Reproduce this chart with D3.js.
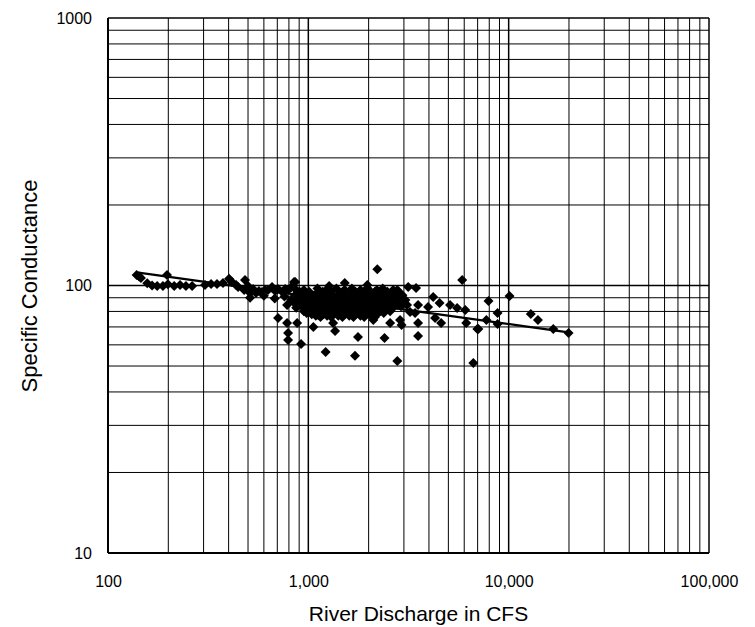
<!DOCTYPE html>
<html>
<head>
<meta charset="utf-8">
<script src="https://cdn.jsdelivr.net/npm/d3@7"></script>
<style>
  body { margin: 0; background: #fff; }
  text { font-family: "Liberation Sans", Arial, sans-serif; fill: #000; }
</style>
</head>
<body>
<div id="chart"></div>
<script>
// Data: [discharge cfs, specific conductance]
const lowFlow = [
  [139,109.5],[143,108],[146,106.7],[157,102],[166,100],[176,99.6],[188,99.6],[197,109.5],[199,101],[214,99.6],
  [229,100.4],[245,99.6],[263,99.6],[305,100.4],[327,101.3],[350,101.3],[375,102.2],[402,106],[416,103],[436,100.4],
  [483,104.8],[446,98.7],[478,96.2],[500,99.6],[512,93.7],[530,97],[548,93.7],[567,95.3],[587,94.5],[608,96.2],
  [629,96.2],[659,98.7],[683,95.3],[706,97],[742,94.5],[766,97],[792,96.2],[823,98.7],[849,103],[860,97],
  [512,90],[600,91.5],[680,89.5],[760,91],[820,88.5]
]
const core = [
  [1110,97.5],[1380,97.5],[1650,97.5],[1980,97.5],[2350,97.5],
  [950,96.2],[1230,96.2],[1520,96.2],[1820,96.2],[2200,96.2],[2650,96.2],
  [905,94.8],[1010,94.8],[1180,94.8],[1300,94.8],[1480,94.8],[1720,94.8],[1890,94.8],[2150,94.8],[2480,94.8],[2820,94.8],
  [880,93.3],[990,93.3],[1120,93.3],[1270,93.3],[1440,93.3],[1630,93.3],[1850,93.3],[2080,93.3],[2380,93.3],[2700,93.3],
  [860,92],[960,92],[1070,92],[1240,92],[1410,92],[1560,92],[1800,92],[2050,92],[2300,92],[2600,92],[2950,92],
  [920,90.8],[1040,90.8],[1190,90.8],[1350,90.8],[1520,90.8],[1720,90.8],[1960,90.8],[2230,90.8],[2520,90.8],[2850,90.8],
  [890,89.5],[1000,89.5],[1150,89.5],[1290,89.5],[1450,89.5],[1640,89.5],[1870,89.5],[2120,89.5],[2400,89.5],[2720,89.5],
  [860,88.2],[970,88.2],[1100,88.2],[1250,88.2],[1410,88.2],[1590,88.2],[1810,88.2],[2050,88.2],[2330,88.2],[2640,88.2],[3050,88.2],
  [840,87],[940,87],[1060,87],[1200,87],[1350,87],[1530,87],[1760,87],[1990,87],[2250,87],[2580,87],[2900,87],
  [880,85.9],[990,85.9],[1120,85.9],[1270,85.9],[1430,85.9],[1620,85.9],[1840,85.9],[2090,85.9],[2370,85.9],[2680,85.9],
  [910,84.8],[1030,84.8],[1170,84.8],[1310,84.8],[1500,84.8],[1700,84.8],[1920,84.8],[2200,84.8],[2480,84.8],[2780,84.8],
  [930,83.6],[1060,83.6],[1200,83.6],[1360,83.6],[1540,83.6],[1750,83.6],[1990,83.6],[2260,83.6],[2560,83.6],[2900,83.6],
  [870,82.5],[980,82.5],[1110,82.5],[1260,82.5],[1420,82.5],[1610,82.5],[1830,82.5],[2070,82.5],[2350,82.5],[2650,82.5],
  [1010,81.3],[1150,81.3],[1300,81.3],[1470,81.3],[1670,81.3],[1890,81.3],[2140,81.3],[2430,81.3],
  [950,80.2],[1080,80.2],[1220,80.2],[1380,80.2],[1560,80.2],[1780,80.2],[2010,80.2],[2280,80.2],[2560,80.2],
  [980,79],[1120,79],[1260,79],[1430,79],[1630,79],[1840,79],[2080,79],[2380,79],
  [1040,78],[1190,78],[1330,78],[1520,78],[1720,78],[1950,78],[2200,78],
  [1090,77],[1240,77],[1410,77],[1600,77],[1820,77],[2060,77],
  [1150,76.2],[1300,76.2],[1480,76.2],[1680,76.2],[1900,76.2],[2150,76.2]
]
const upperEdge = [
  [860,103],[1270,99.6],[1520,102.2],[1970,100.4],[3150,98.7],[3450,97.9],[5860,104.8],[2780,96.2]
]
const scattered = [
  [706,75.6],[783,72.4],[783,84.5],[792,66.4],[792,62.6],[879,72.4],[920,60.5],[1060,70],[1120,77.6],[1220,56.4],
  [1330,72.4],[1360,67.6],[1770,64.2],[1710,54.6],[2400,63.6],[2920,71.2],[2870,74.3],[2560,72.4],[2110,74.3],
  [3530,64.7],[3530,72.4],[2780,52.2],[6660,51.3],[2210,115]
]
const highFlow = [
  [4200,90.6],[4520,86],[5100,84.5],[5530,82.4],[6070,81],[3110,84.5],[3530,84.5],[3960,83.1],[3220,79.6],[3410,78.9],
  [4290,75.6],[4600,72.4],[6140,72.4],[6980,68.8],[7930,87.5],[10100,91.4],[8800,78.9],[12900,78.3],[14000,74.3],
  [7740,74.3],[8800,71.8],[7060,68.8],[16700,68.8],[19900,66.4]
]

// power trend line y = a * x^b
const trendA = 187
const trendB = -0.104

const xTicks = [100, 1000, 10000, 100000]
const yTicks = [10, 100, 1000]

const points = lowFlow.concat(core, upperEdge, scattered, highFlow)

const width = 755, height = 627
const margin = {top: 18, right: 46, bottom: 74, left: 108}

const svg = d3.select('#chart').append('svg')
  .attr('width', width)
  .attr('height', height)

const x = d3.scaleLog().domain([100, 100000]).range([margin.left, width - margin.right])
const y = d3.scaleLog().domain([10, 1000]).range([height - margin.bottom, margin.top])

// gridlines, every 1..9 of each decade
const grid = svg.append('g').attr('stroke', '#000').attr('stroke-width', 1)
grid.selectAll('.vx')
  .data(x.ticks())
  .join('line')
  .attr('x1', d => x(d)).attr('x2', d => x(d))
  .attr('y1', y.range()[1]).attr('y2', y.range()[0])
  .attr('stroke-width', d => xTicks.includes(d) ? 1.5 : 1)
grid.selectAll('.hy')
  .data(y.ticks())
  .join('line')
  .attr('y1', d => y(d)).attr('y2', d => y(d))
  .attr('x1', x.range()[0]).attr('x2', x.range()[1])
  .attr('stroke-width', d => yTicks.includes(d) ? 1.5 : 1)

// axis lines
svg.append('line')
  .attr('x1', x.range()[0]).attr('x2', x.range()[0])
  .attr('y1', y.range()[1]).attr('y2', y.range()[0])
  .attr('stroke', '#000').attr('stroke-width', 2)
svg.append('line')
  .attr('x1', x.range()[0]).attr('x2', x.range()[1])
  .attr('y1', y.range()[0]).attr('y2', y.range()[0])
  .attr('stroke', '#000').attr('stroke-width', 2)

// axes labels
svg.append('g')
  .attr('transform', `translate(0,${y.range()[0]})`)
  .call(d3.axisBottom(x).tickValues(xTicks).tickSize(0).tickPadding(23).tickFormat(d3.format(',')))
svg.append('g')
  .attr('transform', `translate(${x.range()[0]},0)`)
  .call(d3.axisLeft(y).tickValues(yTicks).tickSize(0).tickPadding(16).tickFormat(d3.format('d')))
svg.selectAll('.domain').remove()
svg.selectAll('.tick text').attr('font-size', 16).attr('font-family', '"Liberation Sans", Arial, sans-serif')

// trend line
const qExtent = d3.extent(points, d => d[0])
const trend = d3.range(0, 21).map(i => {
  const q = qExtent[0] * Math.pow(qExtent[1] / qExtent[0], i / 20)
  return [q, trendA * Math.pow(q, trendB)]
})
svg.append('path')
  .datum(trend)
  .attr('fill', 'none')
  .attr('stroke', '#000')
  .attr('stroke-width', 2.2)
  .attr('d', d3.line().x(d => x(d[0])).y(d => y(d[1])))

// markers
const diamond = 'M0,-5L5,0L0,5L-5,0Z'
svg.append('g')
  .selectAll('path')
  .data(points)
  .join('path')
  .attr('d', diamond)
  .attr('transform', d => `translate(${x(d[0])},${y(d[1])})`)
  .attr('fill', '#000')

// titles
svg.append('text')
  .attr('x', (x.range()[0] + x.range()[1]) / 2 + 10)
  .attr('y', 621)
  .attr('text-anchor', 'middle')
  .attr('font-size', 21)
  .text('River Discharge in CFS')
svg.append('text')
  .attr('transform', `translate(37,286) rotate(-90)`)
  .attr('text-anchor', 'middle')
  .attr('font-size', 22)
  .text('Specific Conductance')
</script>
</body>
</html>
